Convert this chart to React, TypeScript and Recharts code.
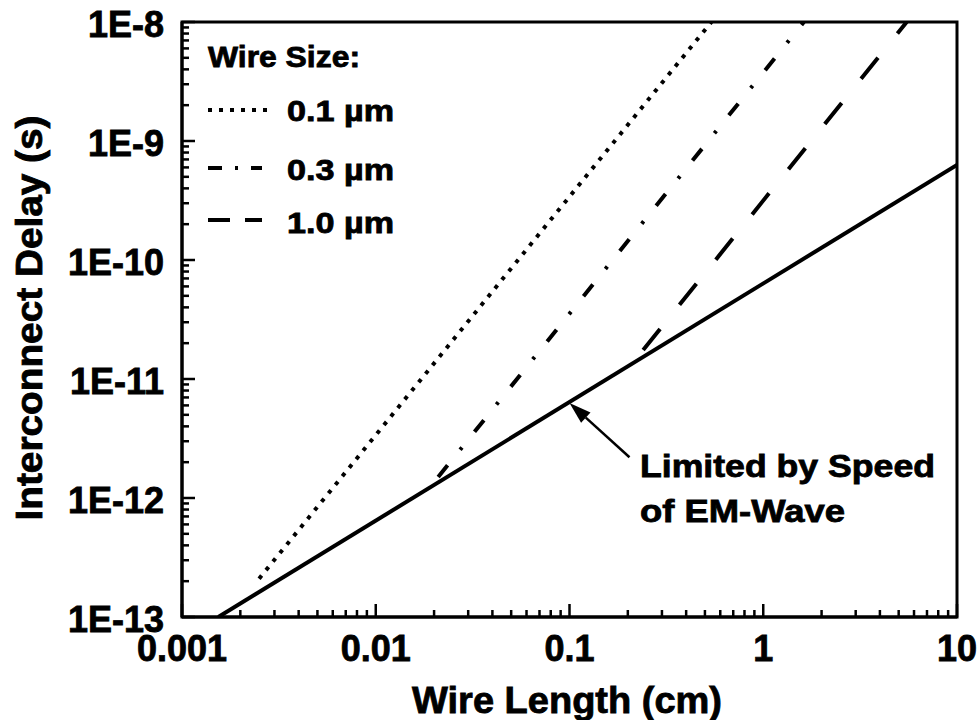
import { LineChart, Line, XAxis, YAxis, ReferenceArea, ReferenceLine } from "recharts"

// wire length (cm) vs. delay (s), log-log
const X_MAJOR = [0.001, 0.01, 0.1, 1, 10]
const X_LABELS = ["0.001", "0.01", "0.1", "1", "10"]
const Y_MAJOR = [1e-13, 1e-12, 1e-11, 1e-10, 1e-9, 1e-8]
const Y_LABELS = ["1E-13", "1E-12", "1E-11", "1E-10", "1E-9", "1E-8"]
const MINOR_STEPS = [2, 3, 4, 5, 6, 7, 8, 9]

// speed-of-light limit
const emWave = [
  { x: 0.00154, y: 1e-13 },
  { x: 10, y: 6.3e-10 },
]
// RC-limited delay for each wire size
const wire01 = [
  { x: 0.0025, y: 2.1e-13 },
  { x: 0.54, y: 1e-8 },
]
const wire03 = [
  { x: 0.021, y: 1.5e-12 },
  { x: 1.62, y: 1e-8 },
]
const wire10 = [
  { x: 0.24, y: 1.75e-11 },
  { x: 5.5, y: 1e-8 },
]

// arrow: tail, tip
const arrowPts = [
  { x: 0.204, y: 2.2e-12 },
  { x: 0.1, y: 6.3e-12 },
]

const withMinors = (majors: number[]) => {
  const out: number[] = []
  majors.forEach((d, i) => {
    out.push(d)
    if (i < majors.length - 1) MINOR_STEPS.forEach((m) => out.push(Number((d * m).toPrecision(3))))
  })
  return out
}
const X_TICKS = withMinors(X_MAJOR)
const Y_TICKS = withMinors(Y_MAJOR)

const FONT = "'Liberation Sans', Arial, sans-serif"
const PLOT_LEFT = 182
const PLOT_BOTTOM = 617

const findMajor = (list: number[], v: number) => list.findIndex((m) => Math.abs(m - v) / m < 1e-6)

const XTick = (props: any) => {
  const { x, payload } = props
  const y = PLOT_BOTTOM
  const idx = findMajor(X_MAJOR, payload.value)
  const major = idx >= 0
  return (
    <g>
      <line x1={x} y1={y} x2={x} y2={y - (major ? 13 : 7)} stroke="#000" strokeWidth={2.5} />
      {major && (
        <text x={x} y={y + 44} textAnchor="middle" fontSize={36} fontWeight="bold" fontFamily={FONT} fill="#000" stroke="#000" strokeWidth={0.8}>
          {X_LABELS[idx]}
        </text>
      )}
    </g>
  )
}

const YTick = (props: any) => {
  const { y, payload } = props
  const x = PLOT_LEFT
  const idx = findMajor(Y_MAJOR, payload.value)
  const major = idx >= 0
  return (
    <g>
      <line x1={x} y1={y} x2={x + (major ? 13 : 7)} y2={y} stroke="#000" strokeWidth={2.5} />
      {major && (
        <text x={x - 18} y={y + 15} textAnchor="end" fontSize={36} fontWeight="bold" fontFamily={FONT} fill="#000" stroke="#000" strokeWidth={0.8}>
          {Y_LABELS[idx]}
        </text>
      )}
    </g>
  )
}

const Arrow = (props: any) => {
  const { x1, y1, x2, y2 } = props
  const ang = Math.atan2(y2 - y1, x2 - x1)
  const len = 22
  const half = 7
  const bx = x2 - len * Math.cos(ang)
  const by = y2 - len * Math.sin(ang)
  const px = -Math.sin(ang) * half
  const py = Math.cos(ang) * half
  return (
    <g>
      <line x1={x1} y1={y1} x2={bx} y2={by} stroke="#000" strokeWidth={2.5} />
      <polygon points={`${x2},${y2} ${bx + px},${by + py} ${bx - px},${by - py}`} fill="#000" />
    </g>
  )
}

const textStyle = { fontFamily: FONT, fontWeight: "bold" as const, fill: "#000", stroke: "#000", strokeWidth: 0.8 }

export default function App() {
  return (
    <div style={{ position: "absolute", left: 0, top: 0, width: 980, height: 720, background: "#fff" }}>
      <LineChart width={980} height={720} margin={{ top: 22, right: 23, bottom: 43, left: 12 }}>
        <XAxis
          dataKey="x"
          type="number"
          scale="log"
          domain={[0.001, 10]}
          allowDataOverflow
          ticks={X_TICKS}
          interval={0}
          height={60}
          tickLine={false}
          tick={<XTick />}
          axisLine={{ stroke: "#000", strokeWidth: 3 }}
        />
        <YAxis
          type="number"
          scale="log"
          domain={[1e-13, 1e-8]}
          allowDataOverflow
          ticks={Y_TICKS}
          interval={0}
          width={170}
          tickLine={false}
          tick={<YTick />}
          axisLine={{ stroke: "#000", strokeWidth: 3 }}
        />
        <ReferenceArea x1={0.001} x2={10} y1={1e-13} y2={1e-8} fill="none" stroke="#000" strokeWidth={3} />
        <Line data={emWave} dataKey="y" stroke="#000" strokeWidth={4} dot={false} isAnimationActive={false} />
        <Line data={wire01} dataKey="y" stroke="#000" strokeWidth={4} strokeDasharray="4 7" dot={false} isAnimationActive={false} />
        <Line data={wire03} dataKey="y" stroke="#000" strokeWidth={4} strokeDasharray="15 20 3 20" dot={false} isAnimationActive={false} />
        <Line data={wire10} dataKey="y" stroke="#000" strokeWidth={4} strokeDasharray="27 31" dot={false} isAnimationActive={false} />
        <ReferenceLine segment={arrowPts} shape={<Arrow />} ifOverflow="visible" />
      </LineChart>

      <svg width={980} height={720} style={{ position: "absolute", left: 0, top: 0, pointerEvents: "none" }}>
        {/* axis titles */}
        <text transform="translate(42,318) rotate(-90)" textAnchor="middle" fontSize={36} textLength={405} lengthAdjust="spacingAndGlyphs" {...textStyle}>
          Interconnect Delay (s)
        </text>
        <text x={567} y={713} textAnchor="middle" fontSize={36} textLength={310} lengthAdjust="spacingAndGlyphs" {...textStyle}>
          Wire Length (cm)
        </text>

        {/* legend */}
        <text x={208} y={67} fontSize={29} textLength={152} lengthAdjust="spacingAndGlyphs" {...textStyle}>Wire Size:</text>
        <line x1={208} y1={110} x2={270} y2={110} stroke="#000" strokeWidth={4} strokeDasharray="4 7" />
        <text x={287} y={121} fontSize={29} textLength={107} lengthAdjust="spacingAndGlyphs" {...textStyle}>0.1 µm</text>
        <line x1={208} y1={168} x2={262} y2={168} stroke="#000" strokeWidth={4} strokeDasharray="14 13 3 13" />
        <text x={287} y={180} fontSize={29} textLength={107} lengthAdjust="spacingAndGlyphs" {...textStyle}>0.3 µm</text>
        <line x1={208} y1={220} x2={262} y2={220} stroke="#000" strokeWidth={4} strokeDasharray="22 15" />
        <text x={287} y={233} fontSize={29} textLength={107} lengthAdjust="spacingAndGlyphs" {...textStyle}>1.0 µm</text>

        {/* annotation */}
        <text x={640} y={477} fontSize={31} textLength={295} lengthAdjust="spacingAndGlyphs" {...textStyle}>Limited by Speed</text>
        <text x={640} y={522} fontSize={31} textLength={205} lengthAdjust="spacingAndGlyphs" {...textStyle}>of EM-Wave</text>
      </svg>
    </div>
  )
}
